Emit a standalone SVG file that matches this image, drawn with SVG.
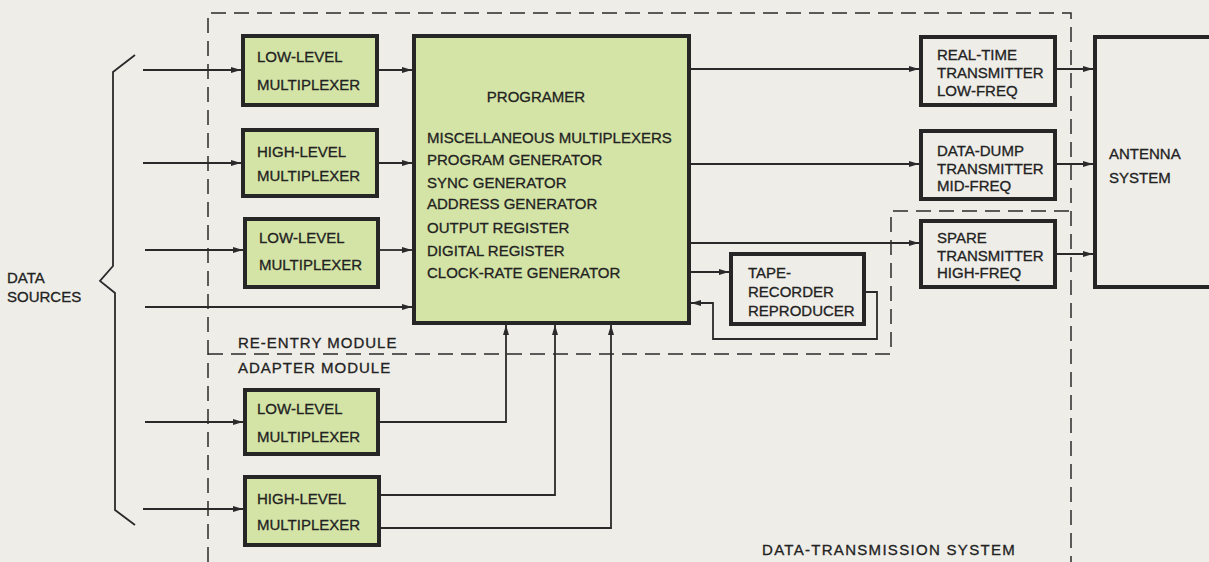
<svg xmlns="http://www.w3.org/2000/svg" width="1209" height="562" viewBox="0 0 1209 562">
<defs>
<style>
.bg{fill:#eeede8}
.box{fill:#d4e4a6;stroke:#262626;stroke-width:4}
.wbox{fill:none;stroke:#262626;stroke-width:4}
.ln{fill:none;stroke:#2a2a2a;stroke-width:1.8}
.dash{fill:none;stroke:#2a2a2a;stroke-width:1.5;stroke-dasharray:15 8}
text{font-family:"Liberation Sans",Arial,sans-serif;font-size:15px;fill:#222;stroke:#222;stroke-width:0.3}
</style>
<marker id="ah" viewBox="0 0 10 8" refX="10" refY="4" markerWidth="10" markerHeight="8" markerUnits="userSpaceOnUse" orient="auto">
<path d="M0,1 L10,4 L0,7 Z" fill="#2a2a2a"/>
</marker>
</defs>
<rect class="bg" x="0" y="0" width="1209" height="562"/>

<g id="boundaries">
<path class="dash" d="M208,562 V13 H1071 V562"/>
<path class="dash" d="M208,354 H891 V211 H1071"/>
</g>

<g id="connectors">
<path class="ln" d="M135,55 L113,72 V266 L100,281 L115,293 V510 L135,525"/>
<path class="ln" d="M143,70 H241" marker-end="url(#ah)"/>
<path class="ln" d="M143,163 H241" marker-end="url(#ah)"/>
<path class="ln" d="M145,250 H243" marker-end="url(#ah)"/>
<path class="ln" d="M145,307 H412" marker-end="url(#ah)"/>
<path class="ln" d="M145,422 H243" marker-end="url(#ah)"/>
<path class="ln" d="M143,509 H243" marker-end="url(#ah)"/>
<path class="ln" d="M379,70 H412" marker-end="url(#ah)"/>
<path class="ln" d="M379,163 H412" marker-end="url(#ah)"/>
<path class="ln" d="M380,250 H412" marker-end="url(#ah)"/>
<path class="ln" d="M380,422 H506 V325" marker-end="url(#ah)"/>
<path class="ln" d="M381,495 H555 V325" marker-end="url(#ah)"/>
<path class="ln" d="M381,528 H611 V325" marker-end="url(#ah)"/>
<path class="ln" d="M691,69 H919" marker-end="url(#ah)"/>
<path class="ln" d="M691,164 H919" marker-end="url(#ah)"/>
<path class="ln" d="M691,243 H919" marker-end="url(#ah)"/>
<path class="ln" d="M691,272 H729" marker-end="url(#ah)"/>
<path class="ln" d="M866,292 H877 V339 H713 V303 H691" marker-end="url(#ah)"/>
<path class="ln" d="M1057,69 H1093" marker-end="url(#ah)"/>
<path class="ln" d="M1057,164 H1093" marker-end="url(#ah)"/>
<path class="ln" d="M1057,254 H1093" marker-end="url(#ah)"/>
</g>

<g id="lm1">
<rect class="box" x="243" y="36" width="134" height="69"/>
<text x="257" y="62">LOW-LEVEL</text>
<text x="257" y="90">MULTIPLEXER</text>
</g>
<g id="hm1">
<rect class="box" x="243" y="130" width="134" height="66"/>
<text x="257" y="157">HIGH-LEVEL</text>
<text x="257" y="181">MULTIPLEXER</text>
</g>
<g id="lm2">
<rect class="box" x="245" y="219" width="133" height="68"/>
<text x="259" y="243">LOW-LEVEL</text>
<text x="259" y="270">MULTIPLEXER</text>
</g>
<g id="lm3">
<rect class="box" x="245" y="390" width="133" height="64"/>
<text x="257" y="414">LOW-LEVEL</text>
<text x="257" y="442">MULTIPLEXER</text>
</g>
<g id="hm3">
<rect class="box" x="245" y="477" width="134" height="68"/>
<text x="257" y="504">HIGH-LEVEL</text>
<text x="257" y="530">MULTIPLEXER</text>
</g>

<g id="programer">
<rect class="box" x="414" y="36" width="275" height="287"/>
<text x="536" y="102" text-anchor="middle">PROGRAMER</text>
<text x="427" y="143">MISCELLANEOUS MULTIPLEXERS</text>
<text x="427" y="165">PROGRAM GENERATOR</text>
<text x="427" y="188">SYNC GENERATOR</text>
<text x="427" y="209">ADDRESS GENERATOR</text>
<text x="427" y="233">OUTPUT REGISTER</text>
<text x="427" y="256">DIGITAL REGISTER</text>
<text x="427" y="278">CLOCK-RATE GENERATOR</text>
</g>

<g id="tape">
<rect class="wbox" x="731" y="254" width="133" height="70"/>
<text x="748" y="278">TAPE-</text>
<text x="748" y="297">RECORDER</text>
<text x="748" y="316">REPRODUCER</text>
</g>

<g id="rt">
<rect class="wbox" x="921" y="37" width="134" height="68"/>
<text x="937" y="60">REAL-TIME</text>
<text x="937" y="78">TRANSMITTER</text>
<text x="937" y="96">LOW-FREQ</text>
</g>
<g id="dd">
<rect class="wbox" x="921" y="131" width="134" height="68"/>
<text x="937" y="156">DATA-DUMP</text>
<text x="937" y="174">TRANSMITTER</text>
<text x="937" y="191">MID-FREQ</text>
</g>
<g id="spare">
<rect class="wbox" x="921" y="221" width="134" height="66"/>
<text x="937" y="243">SPARE</text>
<text x="937" y="261">TRANSMITTER</text>
<text x="937" y="278">HIGH-FREQ</text>
</g>
<g id="antenna">
<rect class="wbox" x="1095" y="37" width="116" height="250"/>
<text x="1109" y="159">ANTENNA</text>
<text x="1109" y="183">SYSTEM</text>
</g>

<g id="labels">
<text x="7" y="283">DATA</text>
<text x="7" y="302">SOURCES</text>
<text x="238" y="348" style="letter-spacing:1px">RE-ENTRY MODULE</text>
<text x="238" y="373" style="letter-spacing:1px">ADAPTER MODULE</text>
<text x="762" y="555" style="letter-spacing:1.3px">DATA-TRANSMISSION SYSTEM</text>
</g>
</svg>
